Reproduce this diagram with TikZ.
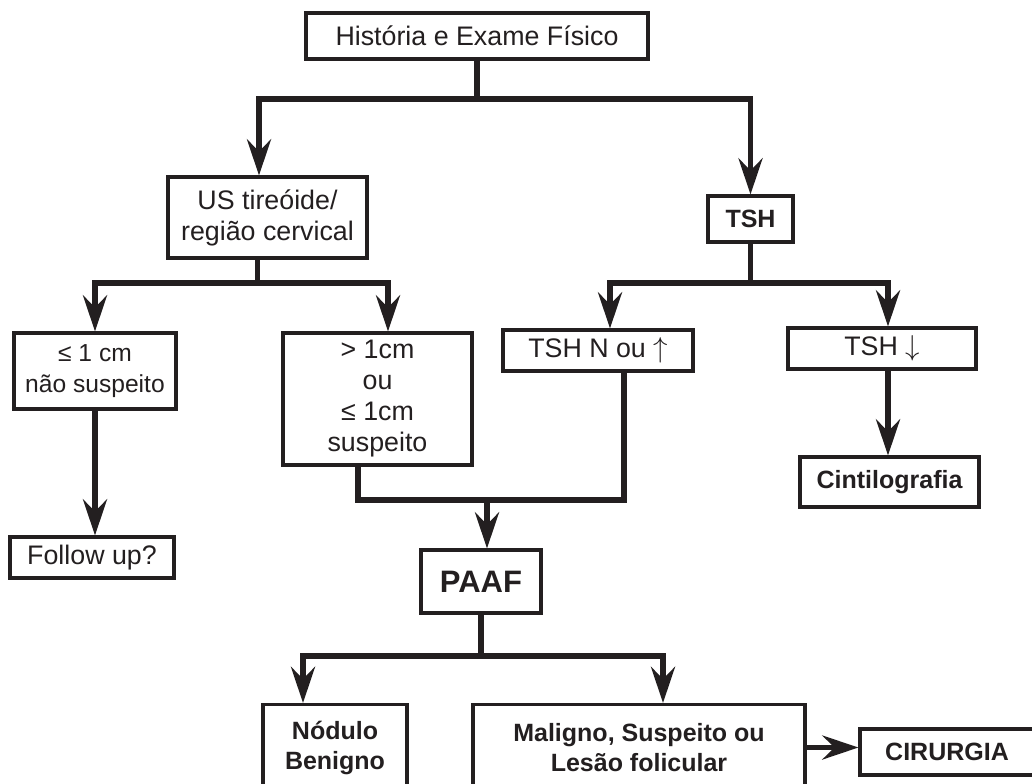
\documentclass[tikz,border=0pt]{standalone}
\usepackage{fontspec}
\setmainfont{Liberation Sans}
\usetikzlibrary{arrows.meta, positioning, calc}
\definecolor{tinta}{RGB}{35, 31, 32}

\begin{document}
\begin{tikzpicture}[x=0.5pt, y=-0.5pt,
  caixa/.style={draw=tinta, line width=1.6pt, text=tinta, inner sep=0pt, align=center, font=\fontsize{13.4}{15.5}\selectfont},
  negrito/.style={caixa, font=\fontsize{12.5}{15}\selectfont\bfseries},
  linha/.style={draw=tinta, line width=2.6pt},
  seta/.style={linha, -{Stealth[length=18pt, width=12pt, inset=6pt]}}]
  \useasboundingbox (0,0) rectangle (1032,783);
  \fill[white] (0,0) rectangle (1032,783);
  \clip (0,0) rectangle (1032,783);

  % Primeiro nivel
  \node[caixa, minimum width=171pt, minimum height=23pt] (historia) at (477,36) {História e Exame Físico};
  \node[caixa, minimum width=99.5pt, minimum height=40.5pt] (us) at (267.5,217.5) {US tireóide/\\região cervical};
  \node[negrito, minimum width=42.5pt, minimum height=23pt] (tsh) at (750.5,219) {TSH};

  % Ramos do US e do TSH
  \node[caixa, font=\fontsize{12.3}{15.5}\selectfont, minimum width=81pt, minimum height=38pt] (menor) at (95,371) {≤ 1 cm\\não suspeito};
  \node[caixa, minimum width=94.5pt, minimum height=66pt] (maior) at (377.5,399) {> 1cm\\ou\\≤ 1cm\\suspeito};
  \node[caixa, minimum width=95pt, minimum height=20.5pt] (tshnormal) at (598,350.5) {TSH N ou $\uparrow$};
  \node[caixa, minimum width=94pt, minimum height=20.5pt] (tshbaixo) at (882,348.5) {TSH $\downarrow$};
  \node[caixa, minimum width=82pt, minimum height=20.5pt] (followup) at (92,557.5) {Follow up?};
  \node[negrito, minimum width=89.5pt, minimum height=25pt] (cinti) at (889.5,482) {Cintilografia};

  % PAAF e resultados
  \node[negrito, font=\fontsize{15.5}{17}\selectfont\bfseries, minimum width=60pt, minimum height=31.5pt] (paaf) at (481,581.5) {PAAF};
  \node[negrito, minimum width=72pt, minimum height=43pt] (benigno) at (335,747.5) {Nódulo\\Benigno};
  \node[negrito, minimum width=166pt, minimum height=43pt] (maligno) at (639,747.5) {Maligno, Suspeito ou\\Lesão folicular};
  \node[negrito, minimum width=87pt, minimum height=23pt] (cirurgia) at (947,752) {CIRURGIA};

  % Conectores
  \coordinate (r1) at (477,99);
  \draw[linha] (historia.south) -- (r1);
  \draw[seta] (r1) -| ([xshift=-4.25pt]us.north);
  \draw[seta] (r1) -| (tsh.north);

  \coordinate (r2) at (257.5,283);
  \draw[linha] (us.south -| r2) -- (r2);
  \draw[seta] (r2) -| (menor.north);
  \draw[seta] (r2) -| ([xshift=5.25pt]maior.north);

  \coordinate (r3) at (750.5,283);
  \draw[linha] (tsh.south -| r3) -- (r3);
  \draw[seta] (r3) -| ([xshift=6pt]tshnormal.north);
  \draw[seta] (r3) -| ([xshift=3pt]tshbaixo.north);

  \draw[seta] (menor.south) -- (menor.south |- followup.north);
  \draw[seta] ([xshift=3pt]tshbaixo.south) -- ([xshift=3pt]tshbaixo.south |- cinti.north);

  \coordinate (r4) at (487,500);
  \draw[linha] ([xshift=-9.75pt]maior.south) |- (r4) -| ([xshift=13pt]tshnormal.south);
  \draw[seta] (r4) -- (r4 |- paaf.north);

  \coordinate (r5) at (481,656);
  \draw[linha] (paaf.south) -- (r5);
  \draw[seta] (r5) -| ([xshift=-16pt]benigno.north);
  \draw[seta] (r5) -| ([xshift=12pt]maligno.north);

  \draw[seta] (maligno.east) -- (maligno.east -| cirurgia.west);
\end{tikzpicture}
\end{document}
